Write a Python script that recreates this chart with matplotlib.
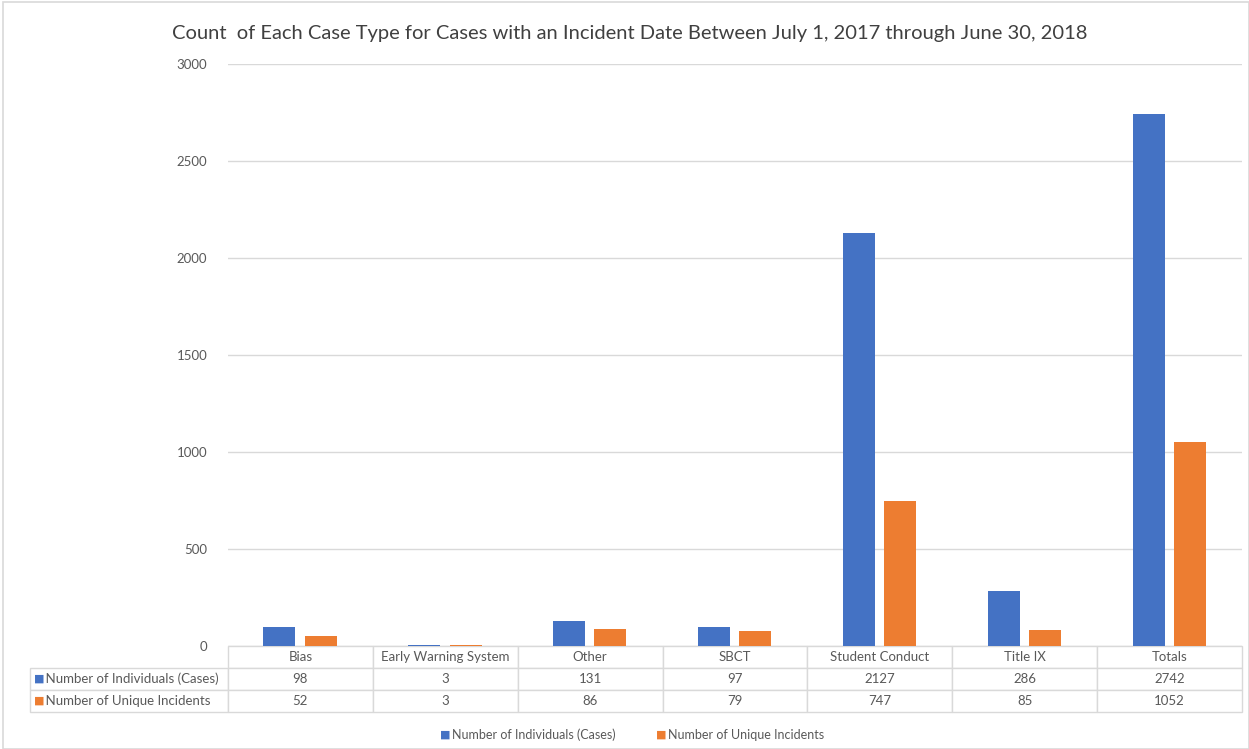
import numpy as np
import matplotlib.pyplot as plt
from matplotlib.patches import Rectangle

categories = ["Bias", "Early Warning System", "Other", "SBCT", "Student Conduct", "Title IX", "Totals"]
individuals = [98, 3, 131, 97, 2127, 286, 2742]
incidents = [52, 3, 86, 79, 747, 85, 1052]
series_names = ["Number of Individuals (Cases)", "Number of Unique Incidents"]
colors = ["#4472C4", "#ED7D31"]
text_gray = "#595959"
grid_gray = "#d9d9d9"

plt.rcParams['font.family'] = ['Lato', 'DejaVu Sans']

fig = plt.figure(figsize=(12.49, 7.49), dpi=100)
ax = fig.add_axes([228 / 1249, 1 - 646 / 749, 1014 / 1249, 582 / 749])

x = np.arange(len(categories))
w = 0.22
ax.bar(x - 0.145, individuals, w, color=colors[0], zorder=3)
ax.bar(x + 0.14, incidents, w, color=colors[1], zorder=3)

ax.set_xlim(-0.5, len(categories) - 0.5)
ax.set_ylim(0, 3000)
ax.set_yticks(np.arange(0, 3001, 500))
ax.set_xticks([])
ax.tick_params(axis='y', length=0, pad=15, labelsize=9.5, labelcolor=text_gray)
ax.grid(axis='y', color=grid_gray, linewidth=1, zorder=0)
for s in ax.spines.values():
    s.set_visible(False)

# data table under the plot (first column holds the series names)
label_w = 198 / 1014
tbl_h = 66 / 582
cell_text = [["    " + series_names[0]] + [str(v) for v in individuals],
             ["    " + series_names[1]] + [str(v) for v in incidents]]
tbl = ax.table(cellText=cell_text, colLabels=[""] + categories,
               colWidths=[label_w] + [1 / 7] * 7, cellLoc='center',
               bbox=[-label_w, -tbl_h, 1 + label_w, tbl_h])
tbl.auto_set_font_size(False)
for (r, c), cell in tbl.get_celld().items():
    cell.set_edgecolor(grid_gray)
    cell.set_linewidth(1)
    cell.get_text().set_color(text_gray)
    cell.get_text().set_fontsize(9.5)
    if c == 0:
        cell.get_text().set_ha('left')
        cell.PAD = 0.01
        if r == 0:
            cell.visible_edges = ''

# colored keys in the row labels
for i, col in enumerate(colors):
    fig.text(34 / 1249, 1 - (679 + 22 * i) / 749, "\u25A0", color=col,
             fontsize=8, va='center', ha='left', family='DejaVu Sans')

ax.set_title("Count  of Each Case Type for Cases with an Incident Date Between July 1, 2017 through June 30, 2018",
             fontsize=14.5, color="#404040", pad=18, x=(630 - 228) / 1014)

# legend
fig.text(440 / 1249, 1 - 735 / 749, "\u25A0", color=colors[0], fontsize=8, va='center', family='DejaVu Sans')
fig.text(452 / 1249, 1 - 735 / 749, series_names[0], color=text_gray, fontsize=9, va='center')
fig.text(656 / 1249, 1 - 735 / 749, "\u25A0", color=colors[1], fontsize=8, va='center', family='DejaVu Sans')
fig.text(668 / 1249, 1 - 735 / 749, series_names[1], color=text_gray, fontsize=9, va='center')

fig.patches.append(Rectangle((3 / 1249, 0), 1 - 3 / 1249, 1 - 2 / 749, transform=fig.transFigure,
                             fill=False, edgecolor=grid_gray, linewidth=1.2))

fig.savefig("out.png", dpi=100)
